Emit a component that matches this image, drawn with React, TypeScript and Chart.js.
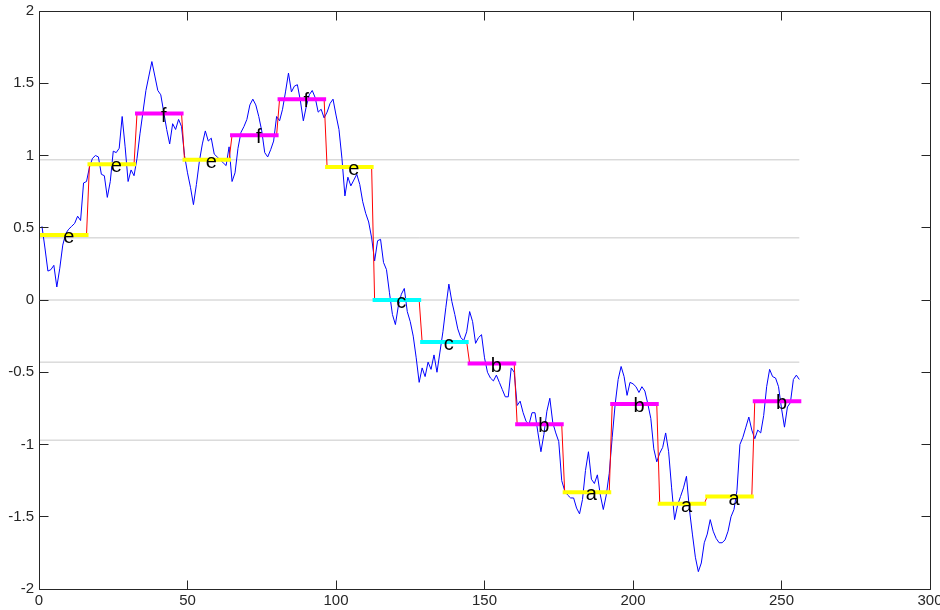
import React, { useEffect, useRef } from 'react';
import { Chart, registerables } from 'chart.js';

Chart.register(...registerables);

// Time series (x = 1..256)
const series: number[] = [
  0.51, 0.36, 0.20, 0.21, 0.24, 0.09, 0.22, 0.38, 0.46, 0.49, 0.51, 0.53, 0.58, 0.55, 0.81, 0.82,
  0.92, 0.98, 1.00, 0.99, 0.87, 0.86, 0.71, 0.82, 1.03, 1.02, 1.05, 1.27, 1.06, 0.82, 0.90, 0.86,
  0.98, 1.15, 1.30, 1.45, 1.55, 1.65, 1.55, 1.45, 1.42, 1.30, 1.18, 1.08, 1.22, 1.18, 1.25, 1.20,
  1.00, 0.88, 0.78, 0.66, 0.80, 0.96, 1.08, 1.17, 1.10, 1.12, 1.01, 0.99, 0.97, 0.95, 0.93, 1.06,
  0.82, 0.88, 1.05, 1.16, 1.20, 1.25, 1.35, 1.39, 1.35, 1.27, 1.17, 1.02, 0.99, 1.04, 1.10, 1.27,
  1.24, 1.32, 1.44, 1.57, 1.44, 1.48, 1.49, 1.38, 1.24, 1.34, 1.42, 1.45, 1.40, 1.30, 1.32, 1.26,
  1.30, 1.36, 1.39, 1.28, 1.18, 0.98, 0.72, 0.85, 0.79, 0.83, 0.87, 0.80, 0.68, 0.60, 0.54, 0.43,
  0.27, 0.41, 0.42, 0.26, 0.21, 0.05, -0.10, -0.17, -0.04, 0.04, 0.08, -0.08, -0.15, -0.25, -0.40, -0.57,
  -0.47, -0.53, -0.43, -0.48, -0.38, -0.50, -0.36, -0.22, -0.05, 0.11, -0.01, -0.10, -0.20, -0.26, -0.28, -0.22,
  -0.08, -0.15, -0.30, -0.26, -0.24, -0.40, -0.50, -0.54, -0.56, -0.52, -0.57, -0.62, -0.67, -0.67, -0.47, -0.50,
  -0.73, -0.70, -0.78, -0.84, -0.86, -0.78, -0.78, -0.92, -1.05, -0.93, -0.77, -0.68, -0.85, -0.92, -0.98, -1.25,
  -1.32, -1.35, -1.37, -1.37, -1.44, -1.48, -1.38, -1.18, -1.05, -1.24, -1.27, -1.21, -1.35, -1.45, -1.35, -1.20,
  -0.95, -0.72, -0.55, -0.46, -0.53, -0.66, -0.57, -0.58, -0.60, -0.64, -0.60, -0.63, -0.72, -0.82, -1.03, -1.12,
  -1.06, -1.02, -0.92, -1.05, -1.30, -1.52, -1.42, -1.36, -1.30, -1.22, -1.45, -1.62, -1.78, -1.88, -1.82, -1.68,
  -1.62, -1.52, -1.60, -1.65, -1.68, -1.68, -1.66, -1.60, -1.50, -1.45, -1.32, -1.00, -0.95, -0.88, -0.81, -0.90,
  -0.96, -0.90, -0.92, -0.80, -0.60, -0.48, -0.53, -0.54, -0.60, -0.75, -0.88, -0.74, -0.71, -0.55, -0.52, -0.55,
];

// Piecewise aggregate approximation, one value per segment of 16 points
const paaValues: number[] = [
  0.45, 0.94, 1.29, 0.97, 1.14, 1.39, 0.92, 0.0,
  -0.29, -0.44, -0.86, -1.33, -0.72, -1.41, -1.36, -0.70,
];

// SAX symbols per segment
const symbols: string[] = [
  'e', 'e', 'f', 'e', 'f', 'f', 'e', 'c',
  'c', 'b', 'b', 'a', 'b', 'a', 'a', 'b',
];

// Breakpoints (gray horizontal lines)
const breakpoints: number[] = [-0.97, -0.43, 0, 0.43, 0.97];

// Tick values / labels
const xTickValues: number[] = [0, 50, 100, 150, 200, 250, 300];
const yTickValues: number[] = [-2, -1.5, -1, -0.5, 0, 0.5, 1, 1.5, 2];
const yTickLabels: string[] = ['-2', '-1.5', '-1', '-0.5', '0', '0.5', '1', '1.5', '2'];
const xTickLabels: string[] = ['0', '50', '100', '150', '200', '250', '300'];

const segLen = 16;
const labelShift = 10;

const symbolColors: Record<string, string> = {
  a: '#ffff00',
  b: '#ff00ff',
  c: '#00ffff',
  d: '#ff0000',
  e: '#ffff00',
  f: '#ff00ff',
};

const AXIS_COLOR = '#262626';
const FONT = 'Arial, "Liberation Sans", Helvetica, sans-serif';

export default function App() {
  const ref = useRef<HTMLCanvasElement>(null);

  useEffect(() => {
    document.body.style.margin = '0';
    document.body.style.background = '#ffffff';
    const canvas = ref.current;
    if (!canvas) return;

    const datasets: any[] = [];
    breakpoints.forEach((b) => {
      datasets.push({
        data: [
          { x: 0, y: b },
          { x: series.length, y: b },
        ],
        borderColor: '#c8c8c8',
        borderWidth: 1,
        pointRadius: 0,
        order: 5,
      });
    });
    datasets.push({
      data: series.map((v, i) => ({ x: i + 1, y: v })),
      borderColor: '#0000ff',
      borderWidth: 1,
      pointRadius: 0,
      order: 4,
    });
    datasets.push({
      data: series.map((_, i) => ({ x: i + 1, y: paaValues[Math.floor(i / segLen)] })),
      borderColor: '#ff0000',
      borderWidth: 1,
      pointRadius: 0,
      order: 3,
    });
    paaValues.forEach((v, k) => {
      datasets.push({
        data: [
          { x: k * segLen + 1, y: v },
          { x: (k + 1) * segLen, y: v },
        ],
        borderColor: symbolColors[symbols[k]],
        borderWidth: 4,
        borderCapStyle: 'square',
        pointRadius: 0,
        order: 2,
      });
    });

    const decor = {
      id: 'decor',
      afterDatasetsDraw(chart: any) {
        const { ctx, scales } = chart;
        const xs = scales.x;
        const ys = scales.y;
        ctx.save();
        ctx.fillStyle = '#000000';
        ctx.font = `20px ${FONT}`;
        ctx.textAlign = 'center';
        ctx.textBaseline = 'alphabetic';
        symbols.forEach((s, k) => {
          const px = xs.getPixelForValue(k * segLen + labelShift);
          const py = ys.getPixelForValue(paaValues[k]);
          ctx.fillText(s, px, py + 8);
        });
        ctx.restore();
      },
      afterDraw(chart: any) {
        const { ctx, chartArea, scales } = chart;
        const xs = scales.x;
        const ys = scales.y;
        const l = Math.floor(chartArea.left) + 0.5;
        const r = Math.floor(chartArea.right) + 0.5;
        const t = Math.floor(chartArea.top) + 0.5;
        const b = Math.floor(chartArea.bottom) + 0.5;
        ctx.save();
        ctx.strokeStyle = AXIS_COLOR;
        ctx.lineWidth = 1;
        ctx.beginPath();
        ctx.rect(l, t, r - l, b - t);
        ctx.stroke();
        ctx.beginPath();
        for (const v of xTickValues) {
          const px = Math.floor(xs.getPixelForValue(v)) + 0.5;
          ctx.moveTo(px, b);
          ctx.lineTo(px, b - 9);
          ctx.moveTo(px, t);
          ctx.lineTo(px, t + 9);
        }
        for (const v of yTickValues) {
          const py = Math.floor(ys.getPixelForValue(v)) + 0.5;
          ctx.moveTo(l, py);
          ctx.lineTo(l + 9, py);
          ctx.moveTo(r, py);
          ctx.lineTo(r - 9, py);
        }
        ctx.stroke();
        ctx.restore();
      },
    };

    const chart = new Chart(canvas, {
      type: 'line',
      data: { datasets },
      options: {
        animation: false,
        responsive: false,
        devicePixelRatio: 1,
        events: [],
        layout: { padding: { top: 11, right: 10, left: 0, bottom: 0 } },
        plugins: {
          legend: { display: false },
          tooltip: { enabled: false },
          title: { display: false },
        },
        elements: { line: { tension: 0 } },
        scales: {
          x: {
            type: 'linear',
            min: 0,
            max: 300,
            grid: { display: false, drawTicks: false },
            border: { display: false },
            afterBuildTicks(s: any) {
              s.ticks = xTickValues.map((v) => ({ value: v }));
            },
            ticks: {
              color: AXIS_COLOR,
              font: { family: FONT, size: 15 },
              padding: 3,
              maxRotation: 0,
              autoSkip: false,
              callback: (v: any) => {
                const i = xTickValues.indexOf(Number(v));
                return i >= 0 ? xTickLabels[i] : '';
              },
            },
            afterFit(s: any) {
              s.height = 21;
              s.paddingLeft = 0;
              s.paddingRight = 0;
            },
          },
          y: {
            type: 'linear',
            min: -2,
            max: 2,
            grid: { display: false, drawTicks: false },
            border: { display: false },
            afterBuildTicks(s: any) {
              s.ticks = yTickValues.map((v) => ({ value: v }));
            },
            ticks: {
              color: AXIS_COLOR,
              font: { family: FONT, size: 15 },
              padding: 5,
              autoSkip: false,
              callback: (v: any) => {
                const i = yTickValues.indexOf(Number(v));
                return i >= 0 ? yTickLabels[i] : '';
              },
            },
            afterFit(s: any) {
              s.width = 39;
              s.paddingTop = 0;
              s.paddingBottom = 0;
            },
          },
        },
      },
      plugins: [decor],
    });

    return () => chart.destroy();
  }, []);

  return (
    <div style={{ width: 940, height: 610, background: '#ffffff' }}>
      <canvas ref={ref} width={940} height={610} style={{ display: 'block' }} />
    </div>
  );
}
